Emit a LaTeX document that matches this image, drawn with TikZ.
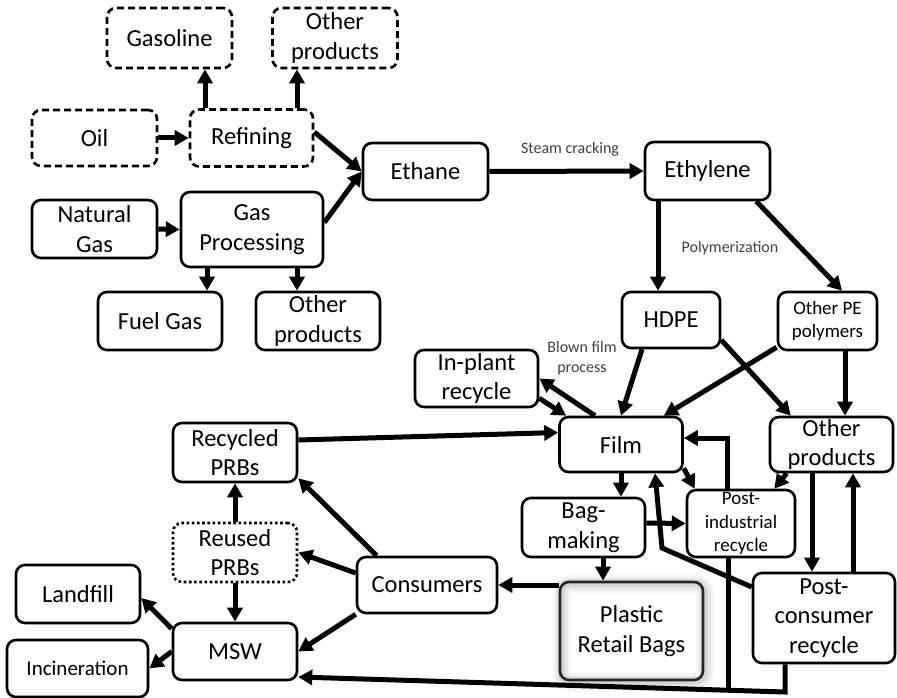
\documentclass[tikz,border=0pt]{standalone}
\usepackage{fontspec}
\setmainfont{Carlito}
\usetikzlibrary{arrows.meta}
\newcommand\fsMain{\fontsize{24.5}{29.5}\selectfont}
\newcommand\fsMid{\fontsize{21}{25}\selectfont}
\newcommand\fsSmall{\fontsize{19}{23.5}\selectfont}
\newcommand\fsLabel{\fontsize{16}{20}\selectfont}
\begin{document}
\begin{tikzpicture}[x=1pt,y=-1pt,
  box/.style={draw, line width=2.6pt, rounded corners=9pt, align=center,
    inner sep=0pt, font=\fsMain},
  dashbox/.style={box, dash pattern=on 7pt off 4pt},
  dotbox/.style={box, dash pattern=on 2.6pt off 2.6pt},
  glowbox/.style={box, draw=black!85,
    preaction={draw=black, draw opacity=0.04, line width=18pt,
      transform canvas={shift={(2pt,-2pt)}}},
    preaction={draw=black, draw opacity=0.06, line width=12pt,
      transform canvas={shift={(2pt,-2pt)}}},
    preaction={draw=black, draw opacity=0.08, line width=7pt,
      transform canvas={shift={(1pt,-1pt)}}}},
  lbl/.style={font=\fsLabel, text=black!75, align=center, inner sep=0pt},
  arr/.style={line width=5pt, -{Triangle[length=14pt,width=15pt]}},
  link/.style={line width=5pt}
]
\useasboundingbox (0,0) rectangle (897,698);

% ---- crude oil branch
\node[dashbox, minimum width=125pt, minimum height=60pt] (gasoline) at (169.5,38) {Gasoline};
\node[dashbox, minimum width=125pt, minimum height=60pt] (othtop) at (335,38) {Other\\products};
\node[dashbox, minimum width=125pt, minimum height=56pt] (oil) at (94.5,138) {Oil};
\node[dashbox, minimum width=123pt, minimum height=57pt] (refining) at (251.5,138) {Refining};

% ---- natural gas branch
\node[box, minimum width=125pt, minimum height=58pt] (natgas) at (94.5,229) {Natural\\Gas};
\node[box, minimum width=142pt, minimum height=75pt] (gasproc) at (252,229.5) {Gas\\Processing};
\node[box, minimum width=124pt, minimum height=58pt] (fuelgas) at (160,321) {Fuel Gas};
\node[box, minimum width=124pt, minimum height=58pt] (othgas) at (318,321) {Other\\products};

% ---- monomer and polymers
\node[box, minimum width=125pt, minimum height=57pt] (ethane) at (425.5,171.5) {Ethane};
\node[box, minimum width=125pt, minimum height=58pt] (ethylene) at (707.5,171) {Ethylene};
\node[box, minimum width=98pt, minimum height=56pt] (hdpe) at (671,320) {HDPE};
\node[box, minimum width=99pt, minimum height=58pt, font=\fsSmall] (otherpe) at (827.5,321) {Other PE\\polymers};

% ---- film and products
\node[box, minimum width=123pt, minimum height=57pt] (inplant) at (476.5,378.5) {In-plant\\recycle};
\node[box, minimum width=123pt, minimum height=55pt] (film) at (621,444.5) {Film};
\node[box, minimum width=123pt, minimum height=55pt] (othright) at (831.5,444.5) {Other\\products};
\node[box, minimum width=108pt, minimum height=67pt, font=\fsSmall] (postind) at (741,523.5) {Post-\\industrial\\recycle};
\node[box, minimum width=123pt, minimum height=59pt] (bagmaking) at (583.5,527.5) {Bag-\\making};
\node[glowbox, minimum width=143pt, minimum height=98pt] (prb) at (631.5,631) {Plastic\\Retail Bags};
\node[box, minimum width=142pt, minimum height=90pt] (postcons) at (824,618) {Post-\\consumer\\recycle};

% ---- use and end of life
\node[box, minimum width=140pt, minimum height=56pt] (consumers) at (427,585) {Consumers};
\node[box, minimum width=124pt, minimum height=59pt] (recycled) at (235,452.5) {Recycled\\PRBs};
\node[dotbox, minimum width=124pt, minimum height=59pt] (reused) at (235,552.5) {Reused\\PRBs};
\node[box, minimum width=124pt, minimum height=58pt] (landfill) at (78,594) {Landfill};
\node[box, minimum width=124pt, minimum height=57pt] (msw) at (235,651.5) {MSW};
\node[box, minimum width=141pt, minimum height=57pt, font=\fsMid] (incin) at (77.5,668.5) {Incineration};

% ---- process labels
\node[lbl] (steam) at (570,149) {Steam cracking};
\node[lbl] (poly) at (730,248) {Polymerization};
\node[lbl] (blown) at (582,358) {Blown film\\process};

% ---- upstream flows
\draw[arr] (oil.east) -- (refining.west);
\draw[arr] ([xshift=-46.5pt]refining.north) -- ([xshift=-46.5pt]refining.north |- gasoline.south);
\draw[arr] ([xshift=45.5pt]refining.north) -- ([xshift=45.5pt]refining.north |- othtop.south);
\draw[arr] ([yshift=6pt]refining.east) -- (ethane.west);
\draw[arr] (natgas.east) -- (gasproc.west);
\draw[arr] ([yshift=7pt]gasproc.east) -- (ethane.west);
\draw[arr] ([xshift=-45pt]gasproc.south) -- ([xshift=-45pt]gasproc.south |- fuelgas.north);
\draw[arr] ([xshift=45pt]gasproc.south) -- ([xshift=45pt]gasproc.south |- othgas.north);
\draw[arr] (ethane.east) -- (ethylene.west);
\draw[arr] ([xshift=-49.5pt]ethylene.south) -- ([xshift=-49.5pt]ethylene.south |- hdpe.north);
\draw[arr] ([xshift=-15pt]ethylene.south east) -- ([xshift=14.5pt]otherpe.north);

% ---- polymers to film and products
\draw[arr] ([xshift=-29pt]hdpe.south) -- (film.north);
\draw[arr] ([yshift=-20pt]hdpe.east) -- ([xshift=22pt]othright.north west);
\draw[arr] ([yshift=4pt]otherpe.south west) -- ([xshift=-20pt]film.north east);
\draw[arr] ([xshift=17.5pt]otherpe.south) -- ([xshift=17.5pt]otherpe.south |- othright.north);
\draw[arr] ([xshift=-26pt]film.north) -- (inplant.east);
\draw[arr] ([yshift=10pt]inplant.south east) -- ([xshift=8pt]film.north west);

% ---- film, bags and recycling
\draw[arr] (film.south) -- (film.south |- bagmaking.north);
\draw[arr] ([yshift=5pt]film.south east) -- ([xshift=9pt]postind.north west);
\draw[arr] ([xshift=-14pt]postind.north) |- ([yshift=6.5pt]film.east);
\draw[arr] ([xshift=18pt]othright.south west) -- ([xshift=-22pt]postind.north east);
\draw[arr] ([xshift=-19.5pt]othright.south) -- ([xshift=-19.5pt]othright.south |- postcons.north);
\draw[arr] ([xshift=29pt]postcons.north) -- ([xshift=29pt]postcons.north |- othright.south);
\coordinate (pcbend) at (662,548);
\draw[arr] ([yshift=31pt]postcons.west) -- (pcbend) -- ([xshift=34pt]film.south);
\draw[arr] ([yshift=4.5pt]bagmaking.east) -- (postind.west);
\draw[arr] ([xshift=19.5pt]bagmaking.south) -- ([xshift=19.5pt]bagmaking.south |- prb.north);
\draw[arr] ([yshift=46pt]prb.west) -- (consumers.east);

% ---- consumer flows
\draw[arr] ([yshift=12.5pt]recycled.east) -- ([yshift=12pt]film.west);
\draw[arr] ([xshift=21pt]consumers.north west) -- ([yshift=5pt]recycled.south east);
\draw[arr] ([yshift=12pt]consumers.west) -- (reused.east);
\draw[arr] (consumers.south west) -- (msw.east);
\draw[arr] (reused.north) -- (recycled.south);
\draw[arr] (reused.south) -- (msw.north);
\draw[arr] ([yshift=-7pt]msw.north west) -- ([yshift=-4pt]landfill.east);
\draw[arr] (msw.west) -- (incin.east);

% ---- recycling residues to MSW
\coordinate (pcdown) at (785,692);
\coordinate (pidown) at (728,690.2);
\draw[arr] ([xshift=-39pt]postcons.south) -- (pcdown) -- ([yshift=-25.5pt]msw.east);
\draw[link] ([xshift=-13pt]postind.south) -- (pidown);
\end{tikzpicture}
\end{document}
